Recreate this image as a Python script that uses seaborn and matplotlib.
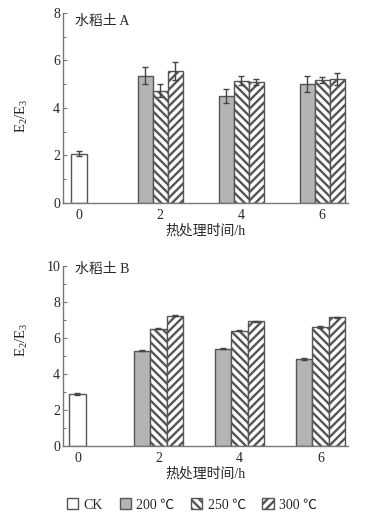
import matplotlib
matplotlib.use("Agg")
import matplotlib.pyplot as plt
import seaborn as sns
import pandas as pd
from matplotlib.ticker import MultipleLocator
from matplotlib.patches import Patch
from matplotlib.container import BarContainer

sns.set_theme(style="white")
plt.rcParams['font.family'] = ['Liberation Serif', 'Noto Sans CJK SC', 'DejaVu Sans']
plt.rcParams['mathtext.fontset'] = 'stix'
plt.rcParams['hatch.linewidth'] = 1.7
plt.rcParams['hatch.color'] = '#111111'

# ---------------- data ----------------
times = ["0", "2", "4", "6"]
treat_times = ["2", "4", "6"]
treatments = ["200 ℃", "250 ℃", "300 ℃"]

# Panel A (水稻土 A)
ck_a = 2.08
ck_a_err = 0.10
a_200 = [5.35, 4.51, 5.01]
a_250 = [4.73, 5.15, 5.18]
a_300 = [5.56, 5.08, 5.22]
a_200_err = [0.36, 0.28, 0.34]
a_250_err = [0.28, 0.20, 0.14]
a_300_err = [0.38, 0.13, 0.27]

# Panel B (水稻土 B)
ck_b = 2.89
ck_b_err = 0.03
b_200 = [5.30, 5.41, 4.85]
b_250 = [6.52, 6.41, 6.61]
b_300 = [7.24, 6.93, 7.15]
b_200_err = [0.04, 0.04, 0.05]
b_250_err = [0.03, 0.03, 0.03]
b_300_err = [0.04, 0.04, 0.04]

panels = [
    dict(title="水稻土 A", ck=ck_a, ck_err=ck_a_err,
         vals=[a_200, a_250, a_300], errs=[a_200_err, a_250_err, a_300_err],
         ylim=8, yticks=[0, 2, 4, 6, 8]),
    dict(title="水稻土 B", ck=ck_b, ck_err=ck_b_err,
         vals=[b_200, b_250, b_300], errs=[b_200_err, b_250_err, b_300_err],
         ylim=10, yticks=[0, 2, 4, 6, 8, 10]),
]

# ---------------- style ----------------
W, H = 380, 521
fig = plt.figure(figsize=(W / 100, H / 100), dpi=100)
edge = '#555555'
spine_c = '#777777'
fills = ['#b4b4b4', 'white', 'white']
hatches = [None, '\\\\\\\\', '////']

# axes boxes in pixels: left, right, top, bottom
boxes = [(63, 348, 13, 203), (63, 348, 266, 446)]
xlims = [(-0.198, 3.32), (-0.179, 3.34)]
bar_w = [0.185, 0.205]
ck_w = [0.20, 0.22]
ylab_y = [0.46, 0.59]
title_y = [0.953, 0.978]

axes = []
for i, p in enumerate(panels):
    l, r, t, b = boxes[i]
    ax = fig.add_axes([l / W, 1 - b / H, (r - l) / W, (b - t) / H])
    axes.append(ax)

    ck_df = pd.DataFrame({"time": ["0"], "value": [p["ck"]]})
    rows = []
    for tr, vals in zip(treatments, p["vals"]):
        for tt, v in zip(treat_times, vals):
            rows.append({"time": tt, "treatment": tr, "value": v})
    tr_df = pd.DataFrame(rows)

    sns.barplot(data=ck_df, x="time", y="value", order=times, width=ck_w[i],
                color='white', edgecolor=edge, linewidth=1.0, errorbar=None, ax=ax)
    n_ck = len(ax.patches)
    n_cont = len(ax.containers)
    sns.barplot(data=tr_df, x="time", y="value", hue="treatment", order=times,
                hue_order=treatments, width=bar_w[i] * 3, errorbar=None,
                edgecolor=edge, linewidth=1.0, ax=ax, legend=False)
    conts = [c for c in ax.containers[n_cont:] if isinstance(c, BarContainer)]

    # CK bar
    ck_patch = [pp for pp in ax.patches[:n_ck] if pp.get_height() > 0][0]
    ck_patch.set_facecolor('white')
    ax.errorbar(ck_patch.get_x() + ck_patch.get_width() / 2, p["ck"], yerr=p["ck_err"],
                fmt='none', ecolor='#444444', elinewidth=1.0, capsize=2.5, capthick=1.0)

    for k, cont in enumerate(conts):
        errs = p["errs"][k]
        xs, ys = [], []
        for patch in cont:
            h = patch.get_height()
            if h != h or h == 0:
                continue
            patch.set_facecolor(fills[k])
            patch.set_edgecolor(edge)
            if hatches[k]:
                patch.set_hatch(hatches[k])
            xs.append(patch.get_x() + patch.get_width() / 2)
            ys.append(h)
        ax.errorbar(xs, ys, yerr=errs[:len(xs)], fmt='none', ecolor='#444444',
                    elinewidth=1.0, capsize=2.5, capthick=1.0, zorder=5)

    ax.set_xlim(*xlims[i])
    ax.set_ylim(0, p["ylim"])
    ax.set_yticks(p["yticks"])
    ax.yaxis.set_minor_locator(MultipleLocator(1))
    for s in ['top', 'right']:
        ax.spines[s].set_visible(False)
    for s in ['left', 'bottom']:
        ax.spines[s].set_color(spine_c)
        ax.spines[s].set_linewidth(1.0)
    ax.tick_params(axis='y', which='major', direction='in', length=3, width=0.8,
                   color=spine_c, labelsize=10, pad=2, left=True)
    ax.tick_params(axis='y', which='minor', direction='in', length=2, width=0.8,
                   color=spine_c, left=True)
    ax.tick_params(axis='x', which='both', length=0, labelsize=10, pad=4)
    ax.set_xlabel("热处理时间/h", fontsize=10, labelpad=2)
    ax.set_ylabel(r"$\mathregular{E_2/E_3}$", fontsize=10.5)
    ax.yaxis.set_label_coords(-0.115, ylab_y[i])
    ax.text(0.042, title_y[i], p["title"], transform=ax.transAxes, fontsize=10,
            ha='left', va='center')
    ax.grid(False)

handles = [
    Patch(facecolor='white', edgecolor=edge, label='CK'),
    Patch(facecolor=fills[0], edgecolor=edge, label=treatments[0]),
    Patch(facecolor='white', edgecolor=edge, hatch=hatches[1], label=treatments[1]),
    Patch(facecolor='white', edgecolor=edge, hatch=hatches[2], label=treatments[2]),
]
fig.legend(handles=handles, loc='center', bbox_to_anchor=(192 / W, 1 - 505 / H),
           ncol=4, frameon=False, fontsize=10, handlelength=0.8, handleheight=0.8,
           handletextpad=0.4, columnspacing=1.2)

fig.savefig("out.png", dpi=100)
